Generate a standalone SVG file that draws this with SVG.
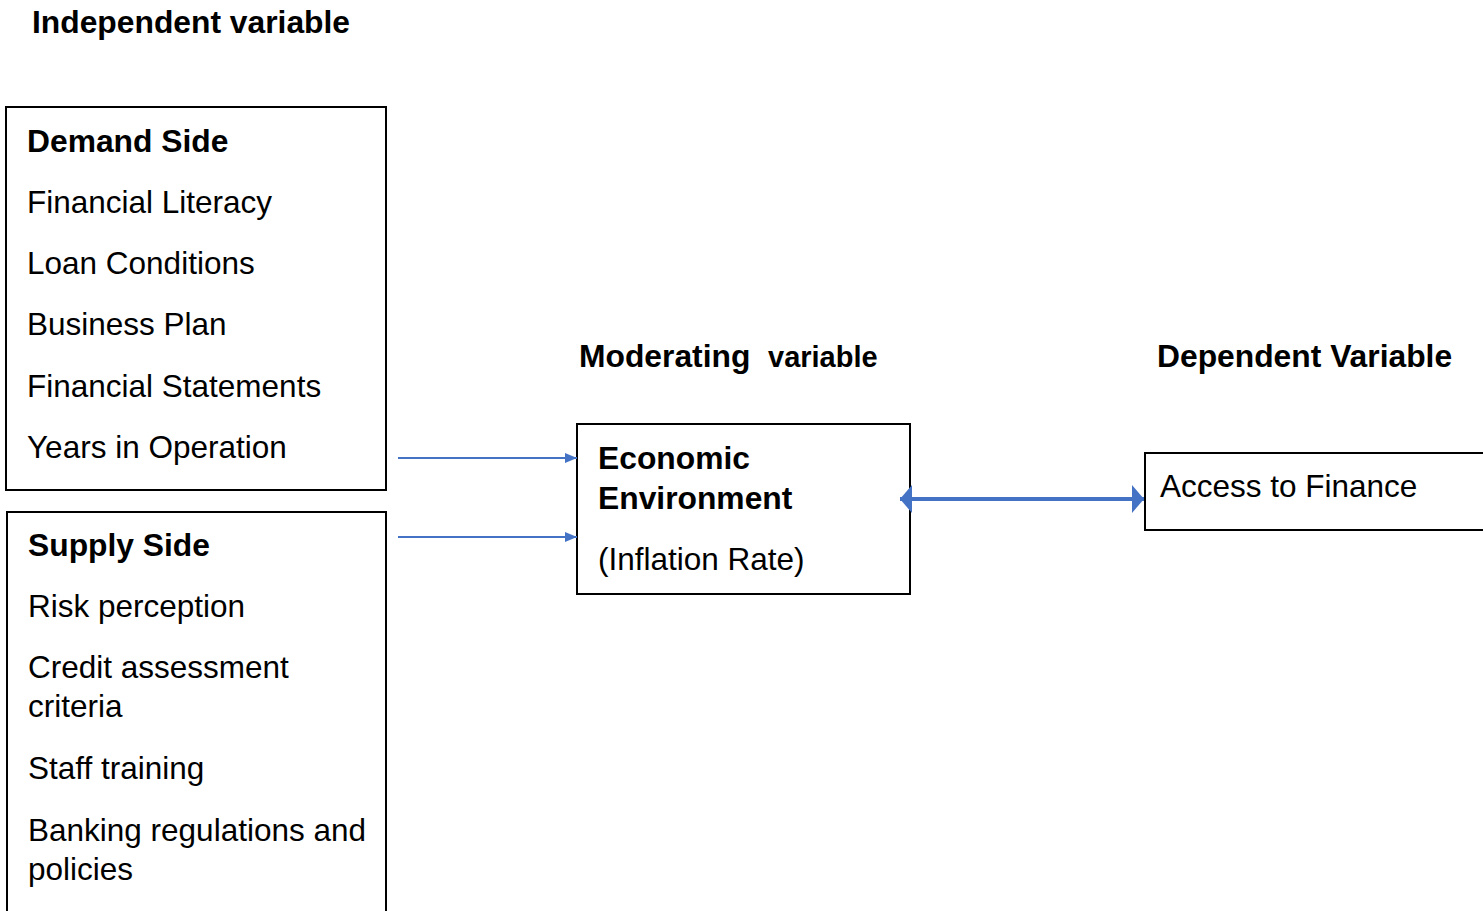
<svg xmlns="http://www.w3.org/2000/svg" width="1483" height="911" viewBox="0 0 1483 911">
<style>
.t{font-family:"Liberation Sans",Arial,sans-serif;font-size:31.5px;fill:#000}
.b{font-weight:bold;font-size:31.8px}
.box{fill:#fff;stroke:#000;stroke-width:2}
.c{stroke:#4472C4;fill:none}
</style>
<defs>
<marker id="ah" viewBox="0 0 10 10" refX="10" refY="5" markerWidth="12" markerHeight="10" orient="auto" markerUnits="userSpaceOnUse" preserveAspectRatio="none">
<path d="M0,0 L10,5 L0,10 z" fill="#4472C4"/>
</marker>
<marker id="ah2" viewBox="0 0 10 10" refX="10" refY="5" markerWidth="12" markerHeight="28" orient="auto-start-reverse" markerUnits="userSpaceOnUse" preserveAspectRatio="none">
<path d="M0,0 L10,5 L0,10 z" fill="#4472C4"/>
</marker>
</defs>
<rect width="1483" height="911" fill="#fff"/>
<text class="t b" x="32" y="33">Independent variable</text>
<text class="t b" x="579" y="367" xml:space="preserve">Moderating  <tspan font-size="29">variable</tspan></text>
<text class="t b" x="1157" y="367">Dependent Variable</text>
<g id="demand">
<rect class="box" x="6" y="107" width="380" height="383"/>
<text class="t b" x="27" y="152">Demand Side</text>
<text class="t" x="27" y="213">Financial Literacy</text>
<text class="t" x="27" y="274">Loan Conditions</text>
<text class="t" x="27" y="335">Business Plan</text>
<text class="t" x="27" y="397">Financial Statements</text>
<text class="t" x="27" y="458">Years in Operation</text>
</g>
<g id="supply">
<rect class="box" x="7" y="512" width="379" height="420"/>
<text class="t b" x="28" y="556">Supply Side</text>
<text class="t" x="28" y="617">Risk perception</text>
<text class="t" x="28" y="678">Credit assessment</text>
<text class="t" x="28" y="717">criteria</text>
<text class="t" x="28" y="779">Staff training</text>
<text class="t" x="28" y="841">Banking regulations and</text>
<text class="t" x="28" y="880">policies</text>
</g>
<g id="economic">
<rect class="box" x="577" y="424" width="333" height="170"/>
<text class="t b" x="598" y="469">Economic</text>
<text class="t b" x="598" y="509">Environment</text>
<text class="t" x="598" y="570">(Inflation Rate)</text>
</g>
<g id="access">
<rect class="box" x="1145" y="453" width="360" height="77"/>
<text class="t" x="1160" y="497">Access to Finance</text>
</g>
<g id="connectors">
<line class="c" x1="398" y1="458" x2="577" y2="458" stroke-width="2" marker-end="url(#ah)"/>
<line class="c" x1="398" y1="537" x2="577" y2="537" stroke-width="2" marker-end="url(#ah)"/>
<line class="c" x1="900" y1="499" x2="1144" y2="499" stroke-width="4" marker-start="url(#ah2)" marker-end="url(#ah2)"/>
</g>
</svg>
